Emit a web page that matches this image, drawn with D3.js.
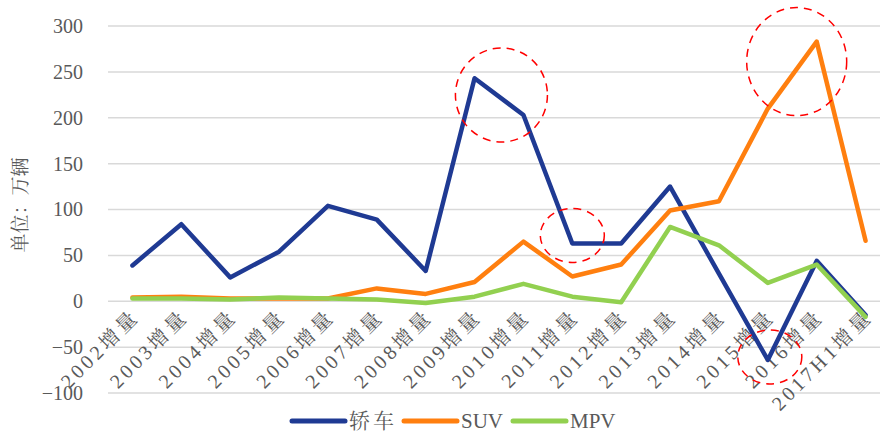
<!DOCTYPE html>
<html><head><meta charset="utf-8">
<script src="https://cdn.jsdelivr.net/npm/d3@7"></script>
<style>body{margin:0;background:#fff}svg{display:block}</style>
</head><body><svg id="c" width="880" height="436"></svg>
<script>
const categories = ["2002增量","2003增量","2004增量","2005增量","2006增量","2007增量","2008增量","2009增量","2010增量","2011增量","2012增量","2013增量","2014增量","2015增量","2016增量","2017H1增量"];
const sedan = [39, 84, 26, 54, 104, 89, 33, 243, 203, 63, 63, 125, 30, -64, 44, -15];
const suv   = [4, 5, 3, 3, 3, 14, 8, 21, 65, 27, 40, 99, 109, 210, 283, 66];
const mpv   = [3, 3, 2, 4, 3, 2, -2, 5, 19, 5, -1, 81, 61, 20, 40, -17];
const yTicks = [-100, -50, 0, 50, 100, 150, 200, 250, 300];
const seriesNames = ["轿车", "SUV", "MPV"];
const seriesColors = ["#1F3A93", "#FF7F0F", "#92D050"];
const yTitle = "单位：万辆";

const svg = d3.select("#c");
const font = "'Liberation Serif','Noto Serif CJK SC','Noto Sans CJK SC',serif";
const x = d3.scaleBand().domain(categories).range([108, 890]);
const y = d3.scaleLinear().domain([-100, 300]).range([393, 26]);
const cx = d => x(d) + x.bandwidth() / 2;

// gridlines
svg.append("g").selectAll("line").data(yTicks).join("line")
  .attr("x1", 108).attr("x2", 890)
  .attr("y1", d => y(d)).attr("y2", d => y(d))
  .attr("stroke", "#d9d9d9").attr("stroke-width", 1.5);

// y axis labels
const yAxis = d3.axisLeft(y).tickValues(yTicks).tickSize(0).tickPadding(0);
const ya = svg.append("g").attr("transform", "translate(83,0)").call(yAxis);
ya.select(".domain").remove();
ya.selectAll("text").attr("font-family", font).attr("font-size", 20).attr("fill", "#595959");

// y title
svg.append("text").attr("transform", "translate(27,205) rotate(-90)")
  .attr("text-anchor", "middle").attr("font-family", font).attr("font-size", 19)
  .attr("fill", "#595959").text(yTitle);

// x labels
const xAxis = d3.axisBottom(x).tickSize(0).tickPadding(0);
const xa = svg.append("g").call(xAxis);
xa.select(".domain").remove();
xa.selectAll(".tick").attr("transform", d => `translate(${cx(d) + 8},318)`);
xa.selectAll("text").attr("font-family", font).attr("font-size", 20).attr("fill", "#595959")
  .attr("letter-spacing", 3.5)
  .attr("text-anchor", "end").attr("dy", 0).attr("y", 0).attr("transform", "rotate(-45)");

// lines
const data = [sedan, suv, mpv];
const line = d3.line().x((d, i) => cx(categories[i])).y(d => y(d));
data.forEach((s, k) => {
  svg.append("path").attr("d", line(s)).attr("fill", "none")
    .attr("stroke", seriesColors[k]).attr("stroke-width", 4.5)
    .attr("stroke-linejoin", "round").attr("stroke-linecap", "round");
});

// highlight circles (around 2010 sedan, 2016 SUV, 2011 sedan, 2015 sedan)
const hl = [
  {i: 8, s: 0, dx: -22, dy: -20, rx: 46, ry: 47},
  {i: 14, s: 1, dx: -20, dy: 20, rx: 50, ry: 54},
  {i: 9, s: 0, dx: 0, dy: -8, rx: 32, ry: 27},
  {i: 13, s: 0, dx: 2, dy: -3, rx: 32, ry: 27}
];
hl.forEach(h => {
  const px = cx(categories[h.i]), py = y(data[h.s][h.i]);
  svg.append("ellipse").attr("cx", px + h.dx).attr("cy", py + h.dy)
    .attr("rx", h.rx).attr("ry", h.ry).attr("fill", "none")
    .attr("stroke", "#FF0000").attr("stroke-width", 1.5).attr("stroke-dasharray", "8,6");
});

// legend
const lg = svg.append("g");
const lx = [292, 404, 513];
seriesNames.forEach((n, k) => {
  lg.append("line").attr("x1", lx[k]).attr("x2", lx[k] + 53).attr("y1", 421).attr("y2", 421)
    .attr("stroke", seriesColors[k]).attr("stroke-width", 5).attr("stroke-linecap", "round");
  lg.append("text").attr("x", lx[k] + 57).attr("y", 428).attr("font-family", font)
    .attr("font-size", 21).attr("fill", "#595959")
    .attr("letter-spacing", k === 0 ? 3 : 0).text(n);
});
</script></body></html>
